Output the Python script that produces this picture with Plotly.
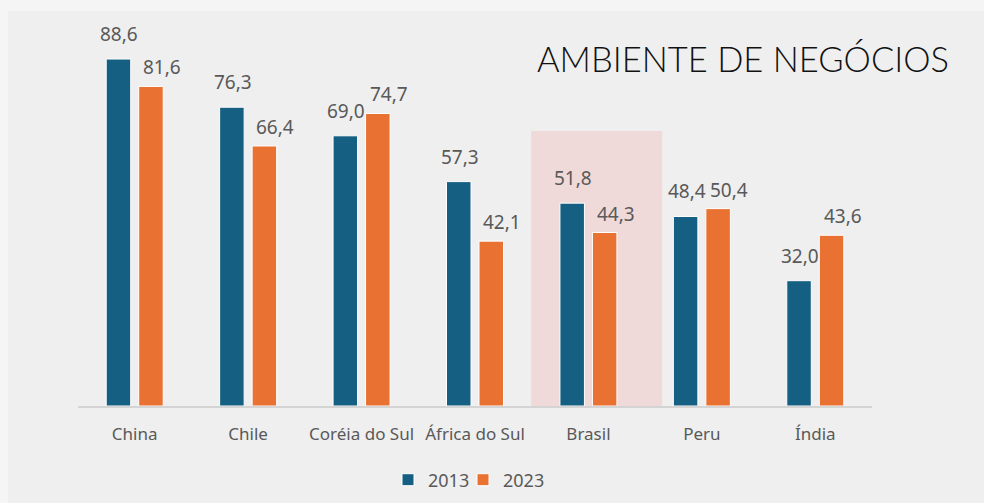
import plotly.graph_objects as go

categories = ["China", "Chile", "Coréia do Sul", "África do Sul", "Brasil", "Peru", "Índia"]
values_2013 = [88.6, 76.3, 69.0, 57.3, 51.8, 48.4, 32.0]
values_2023 = [81.6, 66.4, 74.7, 42.1, 44.3, 50.4, 43.6]
series_names = ["2013", "2023"]
title_text = "AMBIENTE DE NEGÓCIOS"
highlight = "Brasil"

BLUE = "#155f82"
ORANGE = "#e97132"
TXT = "#595959"
FONT = "Noto Sans"

W, H = 984, 503
ML, MR, MT, MB = 78, 112, 20, 97
BARGAP, GROUPGAP = 0.427, 0.246

pw = W - ML - MR
ph = H - MT - MB
cat_w = pw / len(categories)
slot = cat_w * (1 - BARGAP) / 2


def px_x(x):
    return (x - ML) / pw


def px_y(y):
    return (H - MB - y) / ph


fig = go.Figure()
series = [(series_names[0], values_2013, BLUE, -slot / 2 + 1, 10, "legend", 388),
          (series_names[1], values_2023, ORANGE, slot / 2 + 11, 4, "legend2", 463)]
legend_layout = {}
for name, vals, col, xs, ys, leg, lx in series:
    fig.add_trace(go.Bar(
        x=categories, y=vals, name=name, legend=leg,
        marker=dict(color=col, line=dict(color="white", width=1)),
    ))
    legend_layout[leg] = dict(orientation="h", x=px_x(lx), xanchor="left", y=px_y(480), yanchor="middle",
                              font=dict(size=18, color=TXT, family=FONT), bgcolor="rgba(0,0,0,0)",
                              itemwidth=30)
    for cat, v in zip(categories, vals):
        fig.add_annotation(x=cat, y=v, xref="x", yref="y", text=f"{v:.1f}".replace(".", ","),
                           showarrow=False, xanchor="center", yanchor="bottom",
                           xshift=xs, yshift=ys,
                           font=dict(color=TXT, size=19, family=FONT))

hi = categories.index(highlight)
fig.add_shape(type="rect", xref="x", yref="y", layer="below",
              x0=hi - 0.505, x1=hi + 0.65, y0=-9.5, y1=70.2,
              fillcolor="rgba(240,190,190,0.45)", line=dict(width=0))

# lighter outer strips (slide background)
fig.add_shape(type="rect", xref="paper", yref="paper", layer="below",
              x0=px_x(0), x1=px_x(W), y0=px_y(11), y1=px_y(0),
              fillcolor="#f5f5f6", line=dict(width=0))
fig.add_shape(type="rect", xref="paper", yref="paper", layer="below",
              x0=px_x(0), x1=px_x(8), y0=px_y(H), y1=px_y(11),
              fillcolor="#f5f5f6", line=dict(width=0))

fig.add_annotation(text=title_text, xref="paper", yref="paper", x=px_x(951), y=px_y(58),
                   xanchor="right", yanchor="middle", showarrow=False,
                   font=dict(family="Lato", size=34.5, color="#111111", weight=300))

fig.update_layout(
    width=W, height=H,
    paper_bgcolor="#efefef", plot_bgcolor="rgba(0,0,0,0)",
    margin=dict(l=ML, r=MR, t=MT, b=MB, autoexpand=False),
    barmode="group", bargap=BARGAP, bargroupgap=GROUPGAP,
    font=dict(family=FONT, color=TXT, size=17),
    showlegend=True,
    xaxis=dict(showline=True, linecolor="#d4d4d4", linewidth=1.5, showgrid=False,
               ticks="outside", ticklen=12, tickcolor="rgba(0,0,0,0)", automargin=False,
               tickfont=dict(size=17, color=TXT, family=FONT)),
    yaxis=dict(range=[0, ph / 3.916], visible=False, showgrid=False),
    **legend_layout,
)

fig.write_html("out.html", config={"displayModeBar": False},
               post_script="document.body.style.margin='0';document.body.style.padding='0';")
